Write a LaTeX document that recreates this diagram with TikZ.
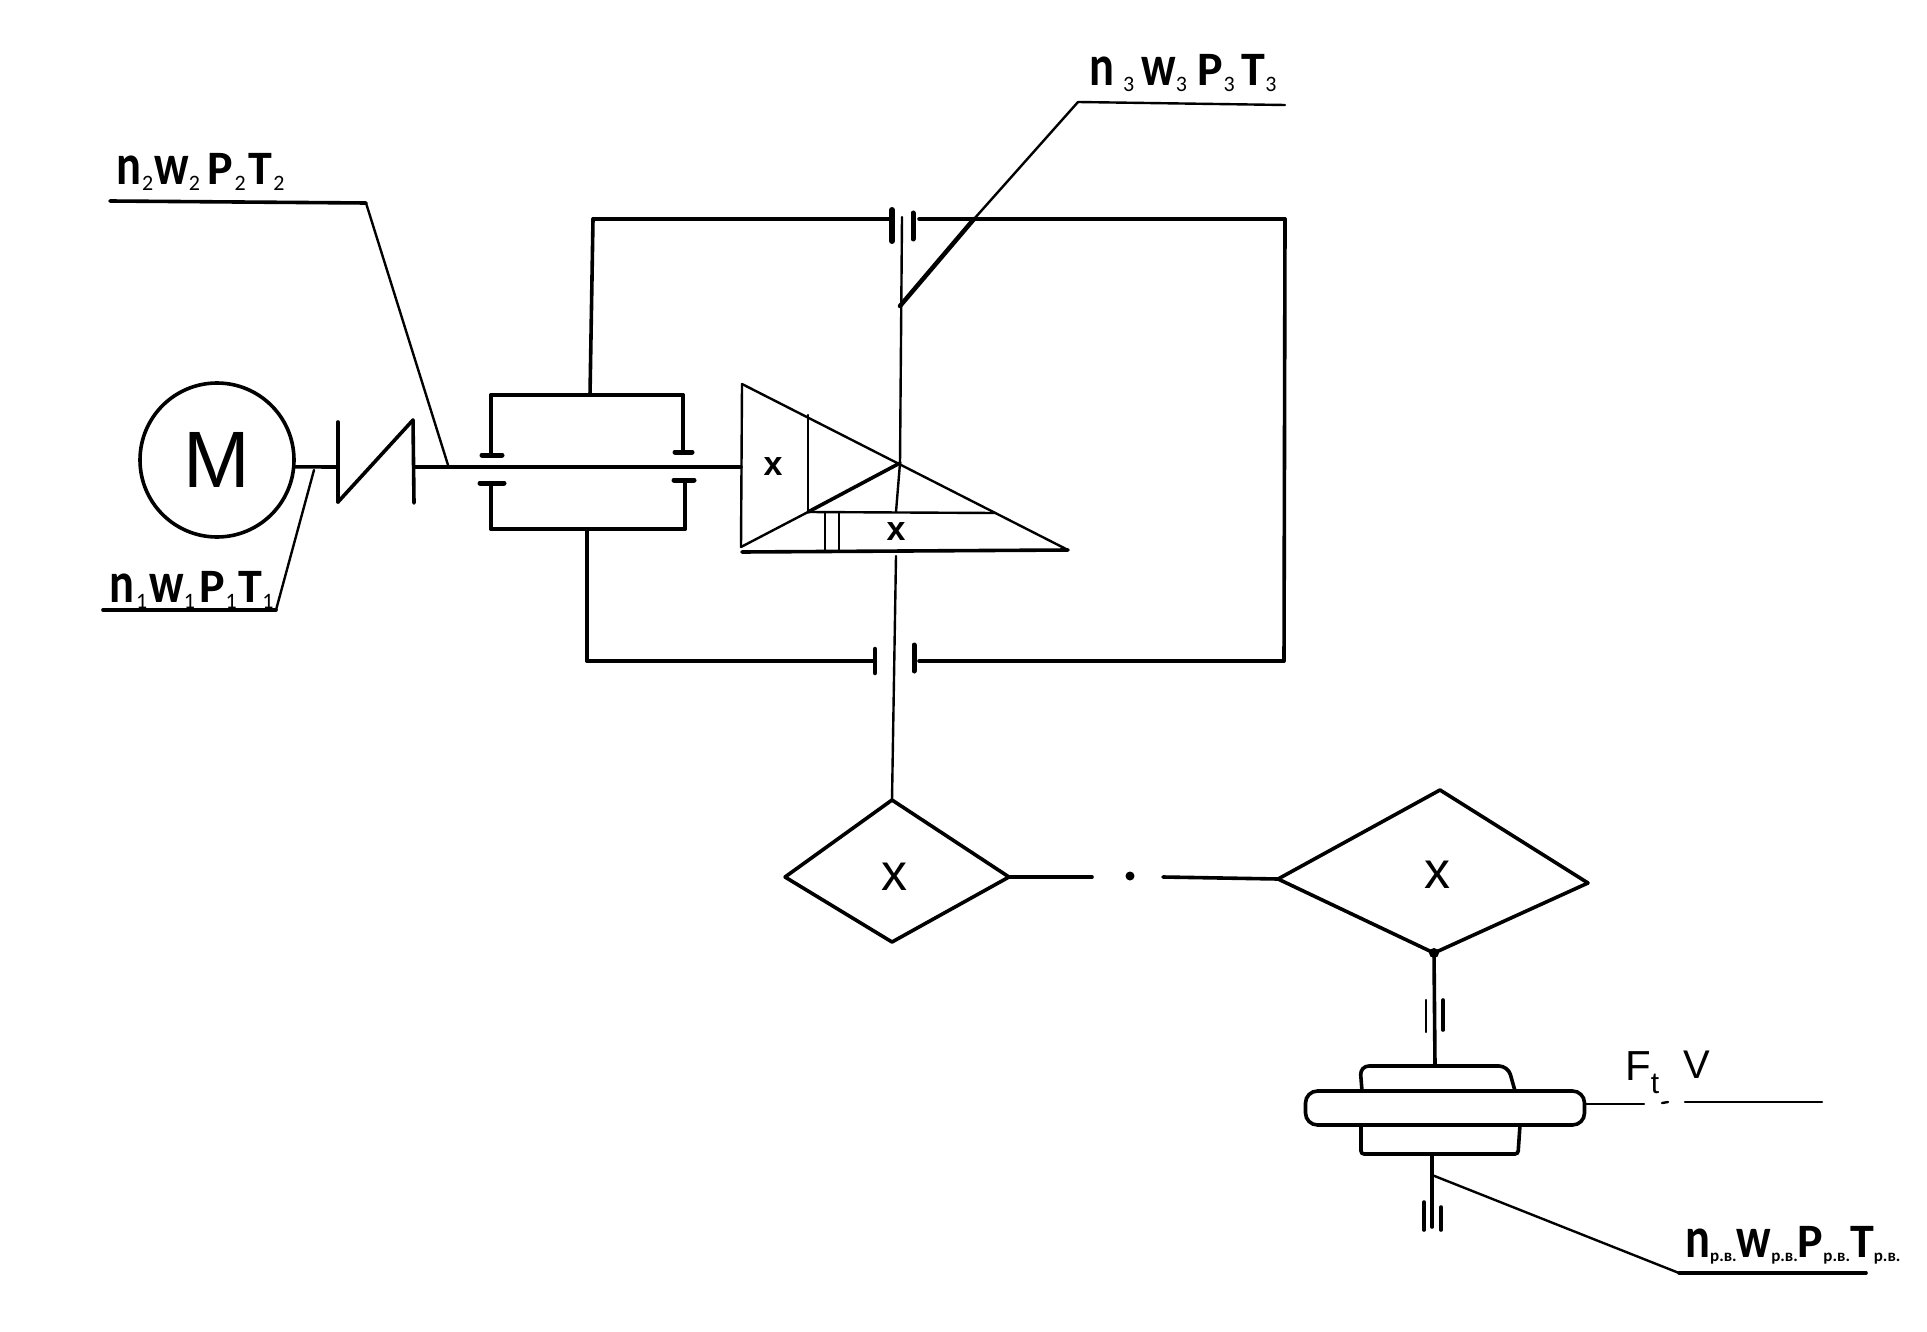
\documentclass[tikz,border=0pt]{standalone}
\usepackage{fontspec}
\setmainfont{Carlito}
\newfontfamily\handfont{Liberation Sans}
\newfontfamily\lowfont[FakeStretch=0.8]{Carlito}
\newcommand{\lowsym}[1]{{\lowfont\bfseries\fontsize{58}{60}\selectfont #1}}
\newcommand{\capsym}[1]{{\bfseries\fontsize{48}{50}\selectfont #1}}
\newcommand{\lowidx}[1]{\raisebox{-6pt}{\fontsize{22}{22}\selectfont #1}}
\newcommand{\workidx}{\raisebox{-4pt}{\bfseries\fontsize{17}{17}\selectfont р.в.}}
\tikzset{
  heavy/.style={line width=3.6pt,line cap=round},
  light/.style={line width=2.4pt,line cap=round},
  shaftlabel/.style={anchor=base west,inner sep=0pt},
  crossmark/.style={inner sep=0pt,font=\handfont\fontsize{52}{52}\selectfont},
}
\begin{document}
\begin{tikzpicture}[x=1pt,y=-1pt]
      \useasboundingbox (0,0) rectangle (1927,1332);
      % motor and clutch
      \draw
        (217,460) node[circle,draw,heavy,minimum size=154pt,inner sep=0pt,
          font=\handfont\fontsize{80}{80}\selectfont] (motor){M}
        (338,467) coordinate (clutchin)
        (338,422) coordinate (clutchtl)
        (338,502) coordinate (clutchbl)
        (413,420) coordinate (clutchtr)
        (414,503) coordinate (clutchbr)
        (415,467) coordinate (clutchout)
        (741,467) coordinate (bevelin);
      \begin{scope}[heavy]
        \draw (motor.-5) to (clutchin);
        \draw (clutchtl) to (clutchbl);
        \draw (clutchbl) to (clutchtr);
        \draw (clutchtr) to (clutchbr);
        \draw (clutchout) to (bevelin);
      \end{scope}
      % upper and lower bearing brackets
      \draw
        (491,395) coordinate (uppl)
        (683,395) coordinate (uppr)
        (491,455) coordinate (uppla)
        (683,452) coordinate (upprb)
        (482,455) coordinate (capa)
        (502,455) coordinate (capb)
        (675,452) coordinate (capc)
        (692,452) coordinate (capd)
        (491,529) coordinate (lowl)
        (685,529) coordinate (lowr)
        (491,483) coordinate (lowla)
        (685,480) coordinate (lowrb)
        (480,483) coordinate (cape)
        (504,483) coordinate (capf)
        (674,480) coordinate (capg)
        (694,480) coordinate (caph)
        (590,395) coordinate (stemu)
        (593,219) coordinate (stemut)
        (587,529) coordinate (stemd)
        (587,661) coordinate (stemdb);
      \begin{scope}[heavy]
        \draw (uppla) to (uppl);
        \draw (uppl) to (uppr);
        \draw (uppr) to (upprb);
        \draw[line width=5pt] (capa) to (capb);
        \draw[line width=5pt] (capc) to (capd);
        \draw (lowla) to (lowl);
        \draw (lowl) to (lowr);
        \draw (lowr) to (lowrb);
        \draw[line width=5pt] (cape) to (capf);
        \draw[line width=5pt] (capg) to (caph);
        \draw (stemu) to (stemut);
        \draw (stemd) to (stemdb);
      \end{scope}
      % closed frame round the bevel stage
      \draw
        (890,219) coordinate (frta)
        (892,210) coordinate (gta)
        (892,241) coordinate (gtb)
        (913,213) coordinate (gtc)
        (913,239) coordinate (gtd)
        (919,219) coordinate (frtb)
        (1285,219) coordinate (frtr)
        (1284,661) coordinate (frbr)
        (919,661) coordinate (frbb)
        (873,661) coordinate (frba)
        (875,649) coordinate (gba)
        (875,673) coordinate (gbb)
        (914,645) coordinate (gbc)
        (914,671) coordinate (gbd);
      \begin{scope}[heavy]
        \draw (stemut) to (frta);
        \draw[line width=6pt] (gta) to (gtb);
        \draw[line width=5pt] (gtc) to (gtd);
        \draw (frtb) to (frtr);
        \draw (frtr) to (frbr);
        \draw (frbr) to (frbb);
        \draw (stemdb) to (frba);
        \draw[line width=4.5pt] (gba) to (gbb);
        \draw[line width=5pt] (gbc) to (gbd);
      \end{scope}
      % bevel gears
      \draw
        (742,384) coordinate (beva)
        (741,547) coordinate (bevb)
        (1068,550) coordinate (bevc)
        (742,552) coordinate (bevd)
        (900,463) coordinate (bevm)
        (808,415) coordinate (bevp)
        (808,512) coordinate (bevq)
        (995,513) coordinate (bevr)
        (825,512) coordinate (sleevea)
        (825,550) coordinate (sleeveb)
        (839,512) coordinate (sleevec)
        (839,550) coordinate (sleeved)
        (902,217) coordinate (shafta)
        (900,463) coordinate (shaftb)
        (896,512) coordinate (shaftc)
        (896,556) coordinate (shaftd)
        (892,800) coordinate (shafte)
        (900,306) coordinate (tapthree)
        (773,467) node[crossmark,font=\handfont\bfseries\fontsize{34}{34}\selectfont] (markl){x}
        (896,532) node[crossmark,font=\handfont\bfseries\fontsize{34}{34}\selectfont] (markb){x};
      \begin{scope}[light]
        \draw (bevb) to (beva);
        \draw (beva) to (bevc);
        \draw[heavy] (bevd) to (bevc);
        \draw (bevb) to (bevq);
        \draw[heavy] (bevq) to (bevm);
        \draw (bevp) to (bevq);
        \draw (bevq) to (bevr);
        \draw (sleevea) to (sleeveb);
        \draw (sleevec) to (sleeved);
        \draw (shafta) to (shaftb);
        \draw (shaftb) to (shaftc);
        \draw (shaftd) to (shafte);
      \end{scope}
      % chain drive
      \draw
        (785,877) coordinate (sprla)
        (892,800) coordinate (sprlb)
        (1009,877) coordinate (sprlc)
        (892,942) coordinate (sprld)
        (894,877) node[crossmark] (sprlx){x}
        (1092,877) coordinate (chaina)
        (1163,877) coordinate (chainb)
        (1130,876) node[circle,fill,inner sep=0pt,minimum size=9pt] (chaindot){}
        (1278,879) coordinate (sprra)
        (1440,790) coordinate (sprrb)
        (1588,883) coordinate (sprrc)
        (1434,953) coordinate (sprrd)
        (1437,875) node[crossmark] (sprrx){x};
      \begin{scope}[heavy]
        \draw (sprla) to (sprlb);
        \draw (sprlb) to (sprlc);
        \draw (sprlc) to (sprld);
        \draw (sprld) to (sprla);
        \draw (sprlc) to (chaina);
        \draw (chainb) to (sprra);
        \draw (sprra) to (sprrb);
        \draw (sprrb) to (sprrc);
        \draw (sprrc) to (sprrd);
        \draw (sprrd) to (sprra);
      \end{scope}
      \fill (sprrd) circle (5pt);
      % output shaft and drum
      \draw
        (1445,1108) node[draw,heavy,rounded corners=12pt,minimum width=279pt,minimum height=34pt,inner sep=0pt] (drum){}
        (1435,1066) coordinate (outa)
        (1426,1000) coordinate (oba)
        (1426,1032) coordinate (obb)
        (1443,1000) coordinate (obc)
        (1443,1030) coordinate (obd)
        (1432,1154) coordinate (outb)
        (1432,1227) coordinate (outc)
        (1424,1202) coordinate (obe)
        (1424,1230) coordinate (obf)
        (1441,1207) coordinate (obg)
        (1441,1230) coordinate (obh)
        (1644,1104) coordinate (linea)
        (1662,1103) coordinate (lineb)
        (1668,1102) coordinate (linec)
        (1685,1102) coordinate (lined)
        (1822,1102) coordinate (linee);
      \draw[heavy,rounded corners=9pt] (1362,1091) -- (1360,1066) -- (1508,1066) -- (1515,1091);
      \draw[heavy,rounded corners=3pt] (1361,1125) -- (1361,1154) -- (1518,1154) -- (1520,1125);
      \begin{scope}[light]
        \draw[heavy] (sprrd) to (outa);
        \draw (oba) to (obb);
        \draw[heavy] (obc) to (obd);
        \draw[heavy] (outb) to (outc);
        \draw[heavy] (obe) to (obf);
        \draw[heavy] (obg) to (obh);
        \draw (drum.east |- linea) to (linea);
        \draw (lineb) to (linec);
        \draw (lined) to (linee);
      \end{scope}
      % leaders and labels
      \draw
        (110,201) coordinate (ltwoa)
        (366,203) coordinate (ltwob)
        (448,465) coordinate (ltwoc)
        (103,610) coordinate (lonea)
        (276,610) coordinate (loneb)
        (314,470) coordinate (lonec)
        (1285,105) coordinate (lthreea)
        (1078,102) coordinate (lthreeb)
        (974,219) coordinate (lthreec)
        (1432,1175) coordinate (lwa)
        (1679,1273) coordinate (lwb)
        (1866,1273) coordinate (lwc)
        (116,185) node[shaftlabel] (labtwo){\lowsym{n}\kern1pt\lowidx{2}\kern1pt\lowsym{w}\lowidx{2}\kern8pt\capsym{P}\kern1pt\lowidx{2}\kern3pt\capsym{T}\kern1pt\lowidx{2}}
        (109,602) node[shaftlabel] (labone){\lowsym{n}\kern2pt\lowidx{1}\kern2pt\lowsym{w}\lowidx{1}\kern5pt\capsym{P}\lowidx{1}\kern2pt\capsym{T}\lowidx{1}}
        (1089,86) node[shaftlabel] (labthree){\lowsym{n}\kern9pt\lowidx{3}\kern7pt\lowsym{w}\lowidx{3}\kern11pt\capsym{P}\lowidx{3}\kern7pt\capsym{T}\lowidx{3}}
        (1685,1257) node[shaftlabel] (labwork){\lowsym{n}\workidx\lowsym{w}\workidx\capsym{P}\workidx\capsym{T}\workidx}
        (1625,1080) node[shaftlabel,font=\handfont\fontsize{42}{50}\selectfont] (labforce){F\raisebox{-13pt}{\fontsize{30}{30}\selectfont t}}
        (1683,1078) node[shaftlabel,font=\handfont\fontsize{40}{50}\selectfont] (labspeed){V};
      \begin{scope}[light]
        \draw[heavy] (ltwoa) to (ltwob);
        \draw (ltwob) to (ltwoc);
        \draw[heavy] (lonea) to (loneb);
        \draw (loneb) to (lonec);
        \draw (lthreea) to (lthreeb);
        \draw (lthreeb) to (lthreec);
        \draw[line width=4.5pt,line cap=round] (lthreec) to (tapthree);
        \draw[heavy] (lwc) to (lwb);
        \draw (lwb) to (lwa);
      \end{scope}
    \end{tikzpicture}
\end{document}
